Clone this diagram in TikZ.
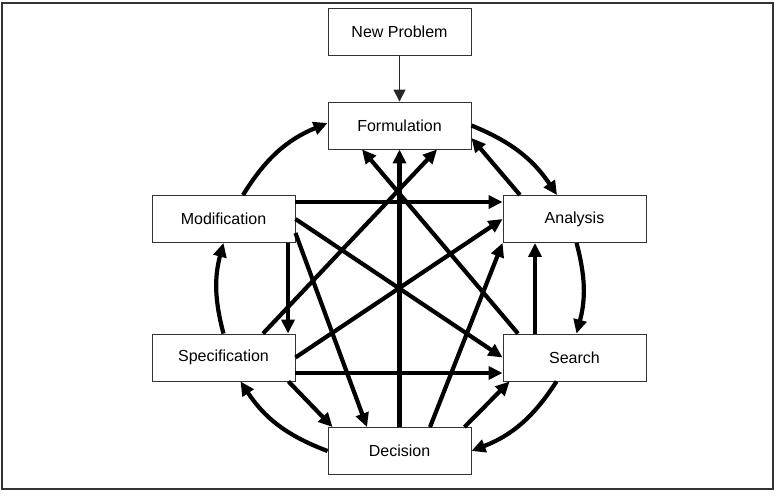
\documentclass[tikz,border=0pt]{standalone}
\usepackage{fontspec}
\setmainfont{Liberation Sans}
\usetikzlibrary{arrows.meta,positioning}
\tikzset{
  box/.style={rectangle, draw=black!80, fill=white, line width=0.9pt,
              minimum width=143pt, minimum height=47pt, inner sep=0pt,
              font=\fontsize{16}{19}\selectfont},
  feed/.style={-{Triangle[length=12pt,width=12pt]}, draw=black!85, line width=1.4pt},
  flow/.style={-{Triangle[length=14pt,width=13pt]}, draw=black, line width=4.2pt},
  cycle/.style={flow, bend left=#1},
  frame/.style={draw=black!80, line width=1.6pt}
}

\begin{document}
\begin{tikzpicture}[x=1pt, y=-1pt]
  \useasboundingbox (0,0) rectangle (778,498);
  \draw[frame] (2,3) rectangle (773,489);
  % stages of the process
  \node[box] (np) at (399.5,32)    {New Problem};
  \node[box] (fo) at (399.5,125.5) {Formulation};
  \node[box] (mo) at (223.5,219)   {Modification};
  \node[box] (an) at (574.5,219)   {Analysis};
  \node[box] (sp) at (223.5,357.5) {Specification};
  \node[box] (se) at (574.5,357.5) {Search};
  \node[box] (de) at (399.5,451)   {Decision};
  \draw[feed] (np) -- (fo);
  % outer cycle
  \draw[cycle=18] ([xshift=19.5pt]mo.north) to ([yshift=2.5pt]fo.west);
  \draw[cycle=17] (fo.east) to ([xshift=-17.5pt]an.north);
  \draw[cycle=15] ([xshift=2pt]an.south) to ([xshift=2pt]se.north);
  \draw[cycle=18] ([xshift=-18pt]se.south) to (de.east);
  \draw[cycle=18] (de.west) to ([xshift=17pt]sp.south);
  \draw[cycle=15] (sp.north) to (mo.south);
  % inner links
  \draw[flow] ([xshift=-56.5pt]se.north) -- ([xshift=-37.5pt]fo.south);
  \draw[flow] ([xshift=39.5pt]sp.north) -- ([xshift=37.5pt]fo.south);
  \draw[flow] (de.north) -- (fo.south);
  \draw[flow] ([yshift=17pt]mo.east) -- ([yshift=17pt]an.west);
  \draw[flow] (mo.east) -- (se.west);
  \draw[flow] (sp.east) -- (an.west);
  \draw[flow] ([yshift=-15.5pt]sp.east) -- ([yshift=-15.5pt]se.west);
  \draw[flow] ([xshift=64.5pt]mo.south) -- ([xshift=64.5pt]sp.north);
  \draw[flow] ([yshift=-14pt]mo.east) -- ([xshift=-32.5pt]de.north);
  \draw[flow] ([xshift=-7pt]sp.south east) -- ([xshift=5pt]de.north west);
  \draw[flow] ([xshift=30.5pt]de.north) -- (an.south west);
  \draw[flow] ([xshift=-7pt]de.north east) -- ([xshift=7pt]se.south west);
  \draw[flow] ([xshift=-39.5pt]se.north) -- ([xshift=-39.5pt]an.south);
  \draw[flow] ([xshift=-54.5pt]an.north) -- ([yshift=-12.5pt]fo.east);
\end{tikzpicture}
\end{document}
